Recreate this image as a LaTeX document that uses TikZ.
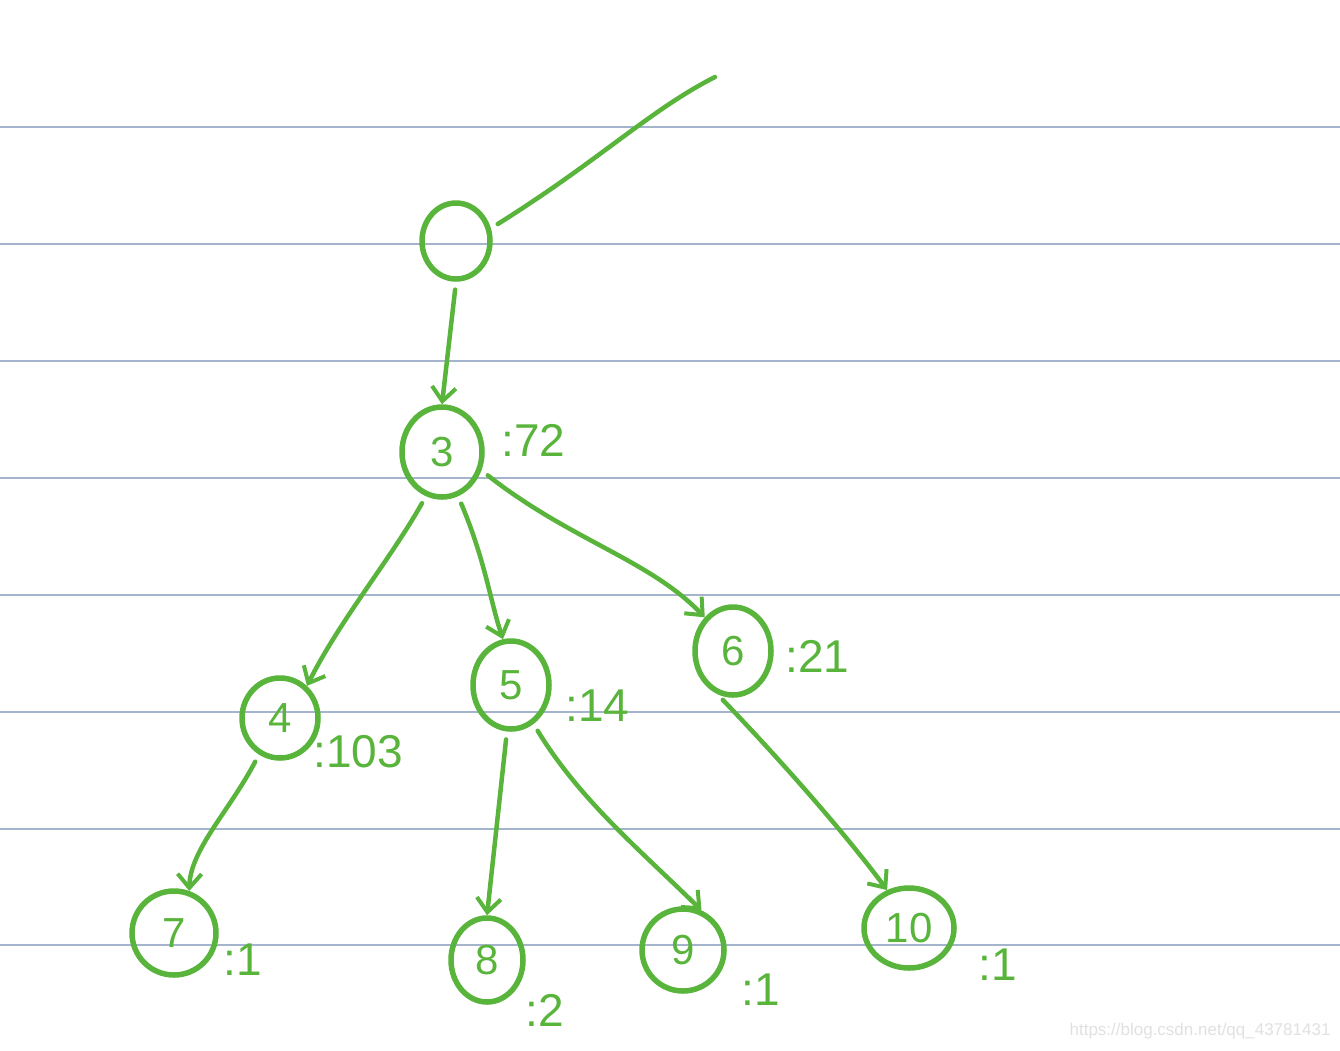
\documentclass[tikz,border=0pt]{standalone}
\usepackage{fontspec}
\setmainfont{Liberation Sans}
\usetikzlibrary{shapes.geometric,arrows.meta}
\definecolor{ink}{RGB}{88,180,58}
\definecolor{rule}{RGB}{165,180,205}
\definecolor{wm}{RGB}{225,225,225}
\begin{document}
\begin{tikzpicture}[x=1pt,y=-1pt,
  vert/.style={ellipse,draw=ink,line width=5.5pt,text=ink,inner sep=0pt,
    font=\fontsize{42}{48}\selectfont},
  lab/.style={text=ink,anchor=west,font=\fontsize{46}{52}\selectfont},
  edge/.style={draw=ink,line width=4.5pt,line cap=round,shorten <=8pt,
    -{Straight Barb[length=14pt,width=24pt,line width=4pt]}},
  ruleline/.style={draw=rule,line width=2pt}]
\useasboundingbox (0,0) rectangle (1340,1050);
\fill[white] (0,0) rectangle (1340,1050);
\foreach \yy in {127,244,361,478,595,712,829,945}
  \draw[ruleline] (0,\yy) -- (1340,\yy);
% nodes
\node[vert,minimum width=68pt,minimum height=76pt] (r) at (456,241) {};
\node[vert,minimum width=80pt,minimum height=90pt] (n3) at (442,452) {3};
\node[vert,minimum width=76pt,minimum height=80pt] (n4) at (280,718) {4};
\node[vert,minimum width=76pt,minimum height=88pt] (n5) at (511,685) {5};
\node[vert,minimum width=76pt,minimum height=88pt] (n6) at (733,651) {6};
\node[vert,minimum width=84pt,minimum height=84pt] (n7) at (174,933) {7};
\node[vert,minimum width=72pt,minimum height=84pt] (n8) at (487,960) {8};
\node[vert,minimum width=82pt,minimum height=82pt] (n9) at (683,950) {9};
\node[vert,minimum width=90pt,minimum height=80pt] (n10) at (909,928) {10};
% labels
\node[lab] (l3) at (498,440) {:72};
\node[lab] (l4) at (310,752) {:103};
\node[lab] (l5) at (562,706) {:14};
\node[lab] (l6) at (782,656) {:21};
\node[lab] (l7) at (220,960) {:1};
\node[lab] (l8) at (522,1010) {:2};
\node[lab] (l9) at (738,990) {:1};
\node[lab] (l10) at (975,965) {:1};
% root stem
\coordinate (top) at (715,77);
\draw[ink,line width=4.5pt,line cap=round,shorten <=8pt] (r.20) .. controls (600,160) and (650,110) .. (top);
% edges
\draw[edge] (r.south) -- (n3.north);
\draw[edge] (n3.-110) .. controls (390,560) and (340,620) .. (n4.50);
\draw[edge] (n3.-70) .. controls (485,560) and (490,600) .. (n5.100);
\draw[edge] (n3.-25) .. controls (570,540) and (650,560) .. (n6.130);
\draw[edge] (n4.-120) .. controls (230,810) and (190,850) .. (n7.70);
\draw[edge] (n5.-95) -- (n8.north);
\draw[edge] (n5.-60) .. controls (580,800) and (640,850) .. (n9.65);
\draw[edge] (n6.-110) .. controls (790,770) and (850,840) .. (n10.120);
% watermark
\node[text=wm,anchor=east,font=\fontsize{17}{20}\selectfont] (wmk) at (1334,1031) {https://blog.csdn.net/qq\_43781431};
\end{tikzpicture}
\end{document}
